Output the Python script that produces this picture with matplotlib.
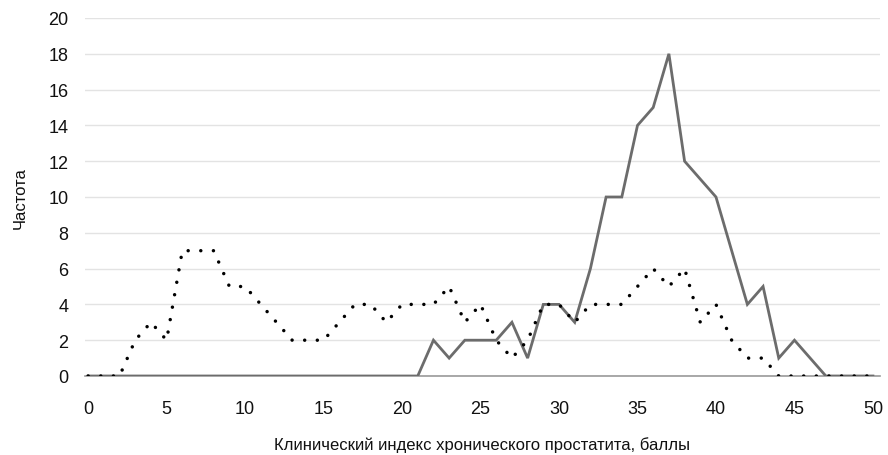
import matplotlib
matplotlib.use("Agg")
import matplotlib.pyplot as plt

# score values 0..50
scores = list(range(0, 51))

# solid series
solid = [0, 0, 0, 0, 0, 0, 0, 0, 0, 0,
         0, 0, 0, 0, 0, 0, 0, 0, 0, 0,
         0, 0, 2, 1, 2, 2, 2, 3, 1, 4,
         4, 3, 6, 10, 10, 14, 15, 18, 12, 11,
         10, 7, 4, 5, 1, 2, 1, 0, 0, 0,
         0]

# dotted series
dotted = [0, 0, 0, 2, 3, 2, 7, 7, 7, 5,
          5, 4, 3, 2, 2, 2, 3, 4, 4, 3,
          4, 4, 4, 5, 3, 4, 2, 1, 2, 4,
          4, 3, 4, 4, 4, 5, 6, 5, 6, 3,
          4, 2, 1, 1, 0, 0, 0, 0, 0, 0,
          0]

x_ticks = list(range(0, 51, 5))
y_ticks = list(range(0, 21, 2))

plt.rcParams['font.family'] = ['Liberation Sans', 'DejaVu Sans']

fig = plt.figure(figsize=(8.88, 4.56), dpi=100)
ax = fig.add_axes([85/888, 1 - 377/456, (880-85)/888, (377-19)/456])

ax.plot(scores, solid, color='#6c6c6c', linewidth=2.0, solid_joinstyle='miter', zorder=3)
lw = 2.5
ax.plot(scores, dotted, color='black', linewidth=lw,
        linestyle=(0, (0.01, 12.6*0.72/lw)), dash_capstyle='round', zorder=4)

ax.set_xlim(-0.2, 50.45)
ax.set_ylim(0, 20)
ax.set_xticks(x_ticks)
ax.set_yticks(y_ticks)
ax.grid(axis='y', color='#e3e3e3', linewidth=1.0)
ax.set_axisbelow(True)
for s in ['top', 'right', 'left']:
    ax.spines[s].set_visible(False)
ax.spines['bottom'].set_color('#9a9a9a')
ax.spines['bottom'].set_linewidth(1.2)
ax.tick_params(axis='both', length=0, labelsize=13, colors='#111111')
ax.tick_params(axis='x', pad=17)
ax.tick_params(axis='y', pad=12)

lab_font = ['Liberation Sans Narrow', 'Liberation Sans', 'DejaVu Sans']
ax.set_xlabel('Клинический индекс хронического простатита, баллы',
              fontsize=12, family=lab_font, labelpad=14, color='#111111')
ax.set_ylabel('Частота', fontsize=12, family=lab_font, labelpad=15, color='#111111')

fig.savefig('out.png', dpi=100)
